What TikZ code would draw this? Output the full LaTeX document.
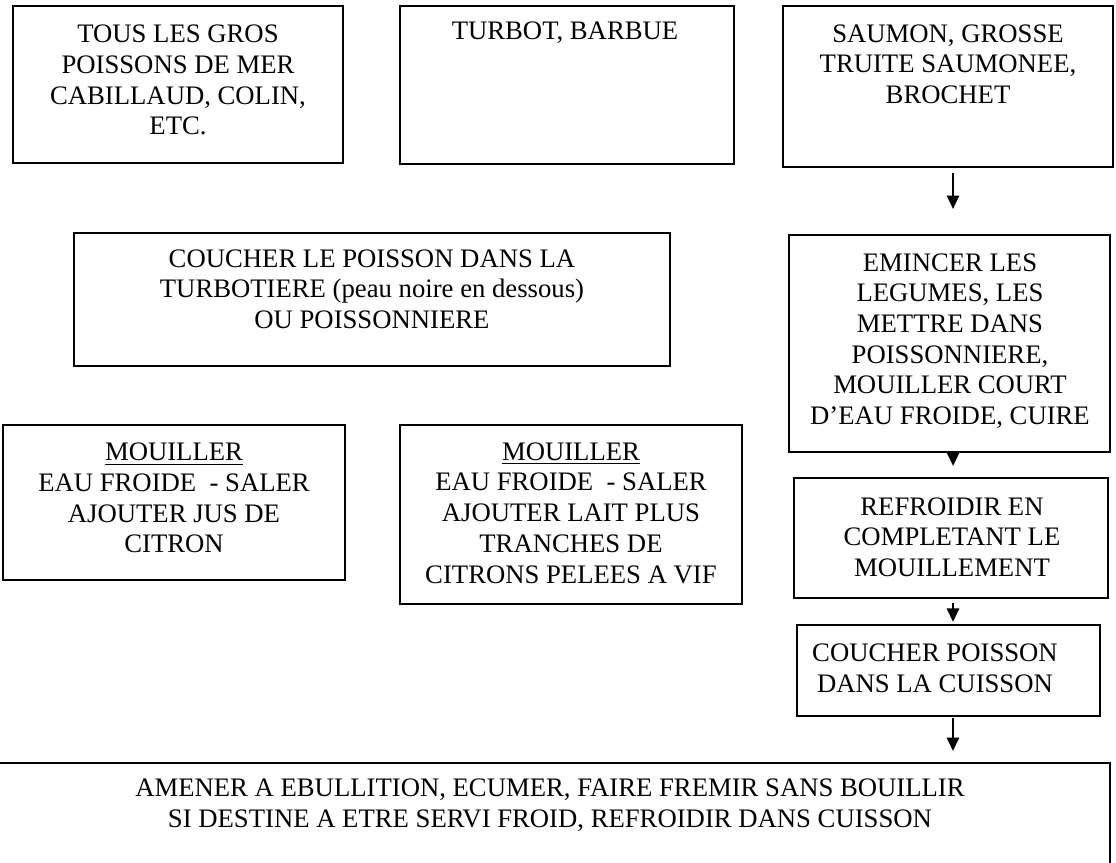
\documentclass[tikz,border=0pt]{standalone}
\usepackage{fontspec}
\setmainfont{Liberation Serif}
\usetikzlibrary{positioning, fit, calc, arrows.meta}
\tikzset{
	boxnode/.style={
			draw=black,
			line width=1.1pt,
			inner sep=0pt
		},
	textnode/.style={
			align=center,
			inner sep=0pt,
			font=\fontsize{12}{13.8}\selectfont
		},
	flowarrow/.style={
			line width=0.6pt,
			-{Triangle[length=6pt,width=5.6pt]}
		}
}

\begin{document}
\begin{tikzpicture}[x=0.4494pt, y=-0.4494pt]
\useasboundingbox (0,0) rectangle (1116,862);

% boxes
\node[boxnode, fit={(13,6) (343,163)}] (bGros) {};
\node[boxnode, fit={(400,6) (734,164)}] (bTurbot) {};
\node[boxnode, fit={(783,6) (1113,167)}] (bSaumon) {};
\node[boxnode, fit={(74,233) (670,366)}] (bTurbotiere) {};
\node[boxnode, fit={(789,235) (1110,452)}] (bEmincer) {};
\node[boxnode, fit={(3,425) (345,580)}] (bCitron) {};
\node[boxnode, fit={(400,425) (742,604)}] (bLait) {};
\node[boxnode, fit={(794,478) (1108,598)}] (bRefroidir) {};
\node[boxnode, fit={(797,625) (1100,716)}] (bCoucher) {};
\node[boxnode, fit={(-30,763) (1110,900)}] (bEbullition) {};

% texts
\node[textnode] (tGros) at (178,80) {TOUS LES GROS\\POISSONS DE MER\\CABILLAUD, COLIN,\\ETC.};
\node[textnode] (tTurbot) at (565,33) {TURBOT, BARBUE};
\node[textnode] (tSaumon) at (948,64) {SAUMON, GROSSE\\TRUITE SAUMONEE,\\BROCHET};
\node[textnode] (tTurbotiere) at (372,289) {COUCHER LE POISSON DANS LA\\TURBOTIERE (peau noire en dessous)\\OU POISSONNIERE};
\node[textnode] (tEmincer) at (950,341) {EMINCER LES\\LEGUMES, LES\\METTRE DANS\\POISSONNIERE,\\MOUILLER COURT\\D’EAU FROIDE, CUIRE};
\node[textnode] (tCitron) at (174,498) {\underline{MOUILLER}\\EAU FROIDE \ - SALER\\AJOUTER JUS DE\\CITRON};
\node[textnode] (tLait) at (571,513) {\underline{MOUILLER}\\EAU FROIDE \ - SALER\\AJOUTER LAIT PLUS\\TRANCHES DE\\CITRONS PELEES A VIF};
\node[textnode] (tRefroidir) at (952,537) {REFROIDIR EN\\COMPLETANT LE\\MOUILLEMENT};
\node[textnode] (tCoucher) at (935,668) {COUCHER POISSON\\DANS LA CUISSON};
\node[textnode] (tEbullition) at (550,805) {AMENER A EBULLITION, ECUMER, FAIRE FREMIR SANS BOUILLIR\\SI DESTINE A ETRE SERVI FROID, REFROIDIR DANS CUISSON};

% arrows
\draw[flowarrow, shorten <=2.25pt, shorten >=11.2pt] ([xshift=2.25pt]bSaumon.south) -- ([xshift=2.25pt]bSaumon.south |- bEmincer.north);
\draw[flowarrow, shorten >=4.9pt] ([xshift=1.6pt]bEmincer.south) -- ([xshift=1.6pt]bEmincer.south |- bRefroidir.north);
\draw[flowarrow, shorten <=1.8pt, shorten >=0.9pt] ([xshift=0.9pt]bRefroidir.south) -- ([xshift=0.9pt]bRefroidir.south |- bCoucher.north);
\draw[flowarrow, shorten <=0.45pt, shorten >=4.9pt] ([xshift=2pt]bCoucher.south) -- ([xshift=2pt]bCoucher.south |- bEbullition.north);

\end{tikzpicture}
\end{document}
